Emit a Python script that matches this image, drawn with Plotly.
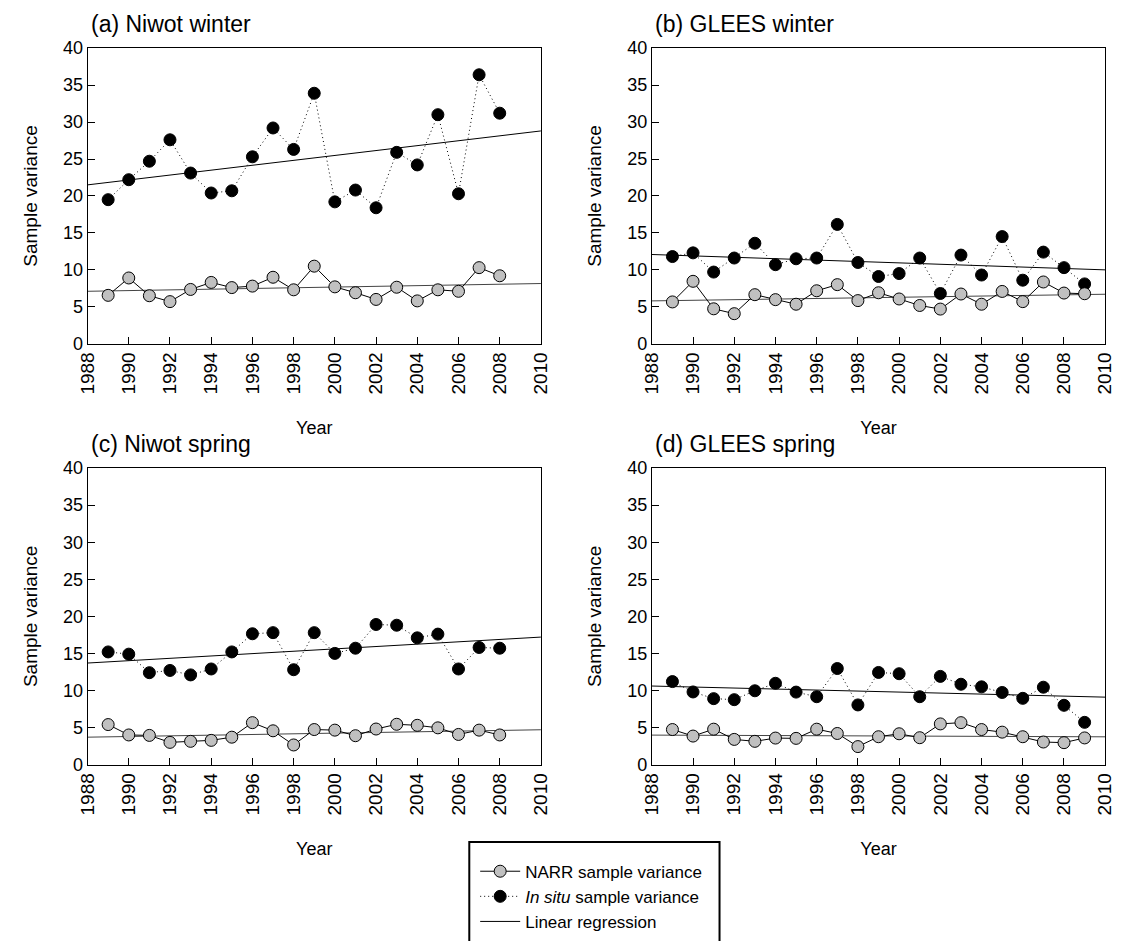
import plotly.graph_objects as go

years_niwot = list(range(1989, 2009))
years_glees = list(range(1989, 2010))

# (a) Niwot winter
a_insitu = [19.5, 22.2, 24.7, 27.6, 23.1, 20.4, 20.7, 25.3, 29.2, 26.3,
            33.9, 19.2, 20.8, 18.4, 25.9, 24.2, 31.0, 20.3, 36.4, 31.2]
a_narr = [6.55, 8.9, 6.5, 5.7, 7.35, 8.3, 7.6, 7.8, 9.0, 7.3,
          10.5, 7.7, 6.9, 6.0, 7.65, 5.8, 7.3, 7.1, 10.3, 9.2]
a_reg_insitu = [21.5, 28.8]
a_reg_narr = [7.1, 8.15]

# (b) GLEES winter
b_insitu = [11.8, 12.3, 9.7, 11.6, 13.6, 10.7, 11.5, 11.6, 16.15, 11.0,
            9.1, 9.5, 11.6, 6.8, 12.0, 9.3, 14.5, 8.6, 12.4, 10.3, 8.1]
b_narr = [5.66, 8.45, 4.73, 4.07, 6.64, 5.97, 5.35, 7.17, 8.0, 5.84,
          6.9, 6.06, 5.18, 4.69, 6.73, 5.35, 7.08, 5.7, 8.36, 6.86, 6.77]
b_reg_insitu = [12.08, 10.0]
b_reg_narr = [5.8, 6.7]

# (c) Niwot spring
c_insitu = [15.2, 14.9, 12.4, 12.7, 12.1, 12.9, 15.2, 17.65, 17.8, 12.8,
            17.8, 15.0, 15.7, 18.9, 18.8, 17.1, 17.6, 12.9, 15.8, 15.7]
c_narr = [5.4, 4.0, 3.94, 3.0, 3.14, 3.27, 3.7, 5.66, 4.56, 2.65,
          4.73, 4.65, 3.9, 4.8, 5.44, 5.3, 4.96, 4.07, 4.65, 4.0]
c_reg_insitu = [13.7, 17.2]
c_reg_narr = [3.7, 4.7]

# (d) GLEES spring
d_insitu = [11.2, 9.8, 8.9, 8.76, 9.96, 10.97, 9.78, 9.16, 12.96, 8.05,
            12.43, 12.26, 9.16, 11.9, 10.84, 10.49, 9.73, 8.94, 10.44, 8.0, 5.7]
d_narr = [4.73, 3.85, 4.78, 3.4, 3.14, 3.58, 3.54, 4.78, 4.2, 2.43,
          3.76, 4.16, 3.63, 5.49, 5.66, 4.73, 4.38, 3.76, 3.05, 2.96, 3.6]
d_reg_insitu = [10.6, 9.1]
d_reg_narr = [3.98, 3.75]

reg_years = [1988, 2010]
panel_titles = ["(a) Niwot winter", "(b) GLEES winter", "(c) Niwot spring", "(d) GLEES spring"]
x_ticks = list(range(1988, 2011, 2))
y_ticks = list(range(0, 41, 5))

FONT = "Liberation Sans, Arial, sans-serif"
W, H = 1126, 941

panels = [
    (years_niwot, a_narr, a_insitu, a_reg_narr, a_reg_insitu),
    (years_glees, b_narr, b_insitu, b_reg_narr, b_reg_insitu),
    (years_niwot, c_narr, c_insitu, c_reg_narr, c_reg_insitu),
    (years_glees, d_narr, d_insitu, d_reg_narr, d_reg_insitu),
]

# pixel boxes (left, right, top, bottom)
boxes = [(78, 540, 39, 341), (653, 1115, 39, 341), (78, 540, 468, 771), (653, 1115, 468, 771)]

fig = go.Figure()
layout = dict(
    width=W, height=H, margin=dict(l=0, r=0, t=0, b=0),
    paper_bgcolor="white", plot_bgcolor="white",
    font=dict(family=FONT, size=16, color="black"),
    showlegend=True,
)

annotations = []
for i, (yrs, narr, insitu, rn, ri) in enumerate(panels):
    k = "" if i == 0 else str(i + 1)
    xa, ya = "x" + k, "y" + k
    first = (i == 0)
    fig.add_trace(go.Scatter(x=reg_years, y=rn, mode="lines", xaxis=xa, yaxis=ya,
                             line=dict(color="#444444", width=1), showlegend=False, hoverinfo="skip"))
    fig.add_trace(go.Scatter(x=reg_years, y=ri, mode="lines", xaxis=xa, yaxis=ya,
                             line=dict(color="black", width=1),
                             name="Linear regression", legendrank=3, showlegend=first))
    fig.add_trace(go.Scatter(x=yrs, y=insitu, mode="lines+markers", xaxis=xa, yaxis=ya,
                             line=dict(color="black", width=1, dash="1px,3px"),
                             marker=dict(symbol="circle", size=12, color="black",
                                         line=dict(color="black", width=1)),
                             name="<i>In situ</i> sample variance", legendrank=2, showlegend=first))
    fig.add_trace(go.Scatter(x=yrs, y=narr, mode="lines+markers", xaxis=xa, yaxis=ya,
                             line=dict(color="black", width=1),
                             marker=dict(symbol="circle", size=12, color="#c0c0c0",
                                         line=dict(color="black", width=1)),
                             name="NARR sample variance", legendrank=1, showlegend=first))
    l, r, t, b = boxes[i]
    xd = [l / W, r / W]
    yd = [1 - b / H, 1 - t / H]
    layout["xaxis" + k] = dict(
        domain=xd, range=[1988, 2010], tickvals=x_ticks, ticktext=[str(v) for v in x_ticks],
        tickangle=-90, ticks="inside", ticklen=7, tickwidth=1, tickcolor="black",
        showline=True, linecolor="black", linewidth=1, mirror=True,
        showgrid=False, zeroline=False, anchor=ya,
        title=dict(text="Year", font=dict(size=18), standoff=27),
        tickfont=dict(size=19),
    )
    layout["yaxis" + k] = dict(
        domain=yd, range=[0, 40], tickvals=y_ticks,
        ticks="inside", ticklen=7, tickwidth=1, tickcolor="black",
        showline=True, linecolor="black", linewidth=1, mirror=True,
        showgrid=False, zeroline=False, anchor=xa,
        title=dict(text="Sample variance", font=dict(size=19), standoff=20),
        tickfont=dict(size=18),
    )
    annotations.append(dict(text=panel_titles[i], x=(l + 2) / W, y=1 - (t - 25) / H,
                            xref="paper", yref="paper", xanchor="left", yanchor="middle",
                            showarrow=False, borderpad=0, font=dict(size=23, family=FONT)))

layout["annotations"] = annotations
layout["shapes"] = [dict(type="rect", xref="paper", yref="paper",
                         x0=467 / W, x1=722 / W, y0=1 - 960 / H, y1=1 - 850 / H,
                         line=dict(color="black", width=2), fillcolor="rgba(0,0,0,0)", layer="above")]
layout["legend"] = dict(
    x=473 / W, y=1 - 862 / H, xanchor="left", yanchor="top",
    borderwidth=0, bgcolor="rgba(0,0,0,0)",
    font=dict(size=17, family=FONT), traceorder="normal",
    itemwidth=40, tracegroupgap=0,
)
fig.update_layout(**layout)
fig.write_html("out.html")
